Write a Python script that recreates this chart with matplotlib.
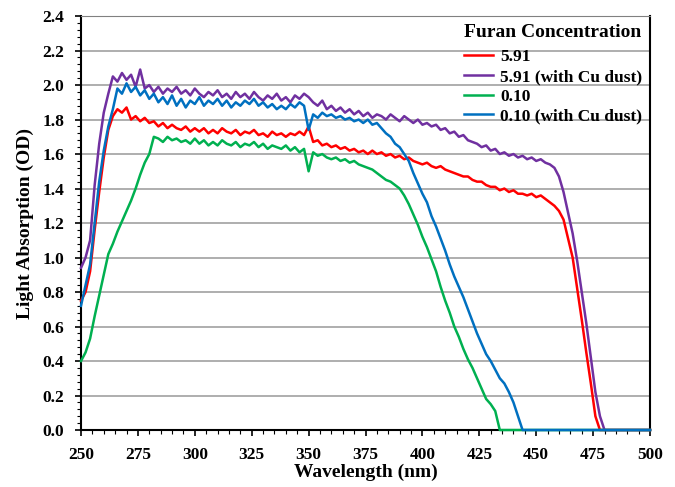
import numpy as np
import matplotlib
matplotlib.use('Agg')
import matplotlib.pyplot as plt
from matplotlib.ticker import MultipleLocator

plt.rcParams['font.family'] = ['Liberation Serif', 'DejaVu Serif']
plt.rcParams['font.weight'] = 'bold'

# wavelength grid (nm), 2 nm steps
wavelength = np.arange(250, 502, 2)

# Furan 5.91
red_591 = [0.75, 0.80, 0.92, 1.16, 1.38, 1.58, 1.74, 1.82, 1.86, 1.84,
           1.87, 1.80, 1.82, 1.79, 1.81, 1.78, 1.79, 1.76, 1.78, 1.75,
           1.77, 1.75, 1.74, 1.76, 1.73, 1.75, 1.73, 1.75, 1.72, 1.74,
           1.72, 1.75, 1.73, 1.72, 1.74, 1.71, 1.73, 1.72, 1.74, 1.71,
           1.72, 1.70, 1.73, 1.71, 1.72, 1.70, 1.72, 1.71, 1.73, 1.71,
           1.76, 1.67, 1.68, 1.65, 1.66, 1.64, 1.65, 1.63, 1.64, 1.62,
           1.63, 1.61, 1.62, 1.60, 1.62, 1.60, 1.61, 1.59, 1.60, 1.58,
           1.59, 1.57, 1.58, 1.56, 1.55, 1.54, 1.55, 1.53, 1.52, 1.53,
           1.51, 1.50, 1.49, 1.48, 1.47, 1.47, 1.45, 1.44, 1.44, 1.42,
           1.41, 1.41, 1.39, 1.40, 1.38, 1.39, 1.37, 1.37, 1.36, 1.37,
           1.35, 1.36, 1.34, 1.32, 1.30, 1.27, 1.22, 1.11, 1.00, 0.82,
           0.64, 0.45, 0.27, 0.08, 0.00, 0.00, 0.00, 0.00, 0.00, 0.00,
           0.00, 0.00, 0.00, 0.00, 0.00, 0.00]

# Furan 5.91 with Cu dust
purple_591cu = [0.94, 1.00, 1.10, 1.42, 1.66, 1.84, 1.95, 2.05, 2.02, 2.07,
                2.03, 2.06, 1.99, 2.09, 1.98, 2.00, 1.96, 1.99, 1.95, 1.98,
                1.96, 1.99, 1.95, 1.97, 1.94, 1.98, 1.95, 1.93, 1.96, 1.94,
                1.97, 1.93, 1.95, 1.92, 1.96, 1.93, 1.95, 1.92, 1.96, 1.93,
                1.91, 1.94, 1.92, 1.95, 1.91, 1.93, 1.90, 1.94, 1.92, 1.95,
                1.93, 1.90, 1.88, 1.91, 1.86, 1.88, 1.85, 1.87, 1.84, 1.86,
                1.83, 1.85, 1.82, 1.84, 1.81, 1.83, 1.82, 1.80, 1.83, 1.81,
                1.79, 1.82, 1.80, 1.78, 1.80, 1.77, 1.78, 1.76, 1.77, 1.74,
                1.75, 1.72, 1.73, 1.70, 1.71, 1.68, 1.67, 1.66, 1.64, 1.65,
                1.62, 1.63, 1.60, 1.61, 1.59, 1.60, 1.58, 1.59, 1.57, 1.58,
                1.56, 1.57, 1.55, 1.54, 1.52, 1.47, 1.38, 1.26, 1.14, 0.98,
                0.80, 0.62, 0.42, 0.22, 0.08, 0.00, 0.00, 0.00, 0.00, 0.00,
                0.00, 0.00, 0.00, 0.00, 0.00, 0.00]

# Furan 0.10
green_010 = [0.40, 0.45, 0.53, 0.66, 0.78, 0.90, 1.02, 1.08, 1.15, 1.21,
             1.27, 1.33, 1.40, 1.48, 1.55, 1.60, 1.70, 1.69, 1.67, 1.70,
             1.68, 1.69, 1.67, 1.68, 1.66, 1.69, 1.66, 1.68, 1.65, 1.67,
             1.65, 1.68, 1.66, 1.65, 1.67, 1.64, 1.66, 1.65, 1.67, 1.64,
             1.66, 1.63, 1.65, 1.64, 1.63, 1.65, 1.62, 1.64, 1.61, 1.63,
             1.50, 1.61, 1.59, 1.60, 1.58, 1.57, 1.58, 1.56, 1.57, 1.55,
             1.56, 1.54, 1.53, 1.52, 1.51, 1.49, 1.47, 1.45, 1.44, 1.42,
             1.40, 1.36, 1.31, 1.25, 1.19, 1.12, 1.06, 0.99, 0.92, 0.83,
             0.75, 0.68, 0.60, 0.54, 0.47, 0.41, 0.36, 0.30, 0.24, 0.18,
             0.15, 0.11, 0.00, 0.00, 0.00, 0.00, 0.00, 0.00, 0.00, 0.00,
             0.00, 0.00, 0.00, 0.00, 0.00, 0.00, 0.00, 0.00, 0.00, 0.00,
             0.00, 0.00, 0.00, 0.00, 0.00, 0.00, 0.00, 0.00, 0.00, 0.00,
             0.00, 0.00, 0.00, 0.00, 0.00, 0.00]

# Furan 0.10 with Cu dust
blue_010cu = [0.72, 0.84, 0.96, 1.20, 1.44, 1.62, 1.76, 1.86, 1.98, 1.95,
              2.01, 1.96, 1.99, 1.94, 1.97, 1.92, 1.95, 1.90, 1.93, 1.89,
              1.94, 1.88, 1.92, 1.87, 1.91, 1.89, 1.93, 1.88, 1.91, 1.89,
              1.92, 1.88, 1.91, 1.87, 1.90, 1.88, 1.91, 1.89, 1.92, 1.88,
              1.90, 1.87, 1.89, 1.86, 1.88, 1.86, 1.89, 1.87, 1.90, 1.88,
              1.74, 1.83, 1.81, 1.84, 1.82, 1.83, 1.81, 1.82, 1.80, 1.81,
              1.79, 1.80, 1.78, 1.80, 1.77, 1.78, 1.75, 1.72, 1.70, 1.66,
              1.64, 1.60, 1.56, 1.49, 1.43, 1.37, 1.32, 1.24, 1.18, 1.11,
              1.04, 0.96, 0.89, 0.83, 0.77, 0.70, 0.63, 0.56, 0.50, 0.44,
              0.40, 0.35, 0.30, 0.27, 0.22, 0.16, 0.08, 0.00, 0.00, 0.00,
              0.00, 0.00, 0.00, 0.00, 0.00, 0.00, 0.00, 0.00, 0.00, 0.00,
              0.00, 0.00, 0.00, 0.00, 0.00, 0.00, 0.00, 0.00, 0.00, 0.00,
              0.00, 0.00, 0.00, 0.00, 0.00, 0.00]

labels = ['5.91', '5.91 (with Cu dust)', '0.10', '0.10 (with Cu dust)']
colors = ['#FF0000', '#7030A0', '#00B050', '#0070C0']

fig = plt.figure(figsize=(6.75, 4.87), dpi=100)
ax = fig.add_axes([0.12, 0.117, 0.843, 0.85])

for ys, lab, col in zip([red_591, purple_591cu, green_010, blue_010cu], labels, colors):
    ax.plot(wavelength, ys, color=col, lw=1.8, label=lab, clip_on=False, zorder=3)

ax.set_xlim(250, 500)
ax.set_ylim(0, 2.4)
ax.xaxis.set_major_locator(MultipleLocator(25))
ax.xaxis.set_minor_locator(MultipleLocator(5))
ax.yaxis.set_major_locator(MultipleLocator(0.2))
ax.yaxis.set_minor_locator(MultipleLocator(0.04))
ax.yaxis.set_major_formatter(plt.FormatStrFormatter('%.1f'))
ax.grid(axis='y', which='major', color='#999999', lw=1.1)
ax.set_axisbelow(True)

ax.tick_params(which='major', direction='out', length=4, width=1.2, labelsize=12.5)
ax.tick_params(which='minor', direction='out', length=3, width=0.8)
ax.tick_params(axis='y', which='major', pad=8)
ax.tick_params(axis='x', which='major', pad=8)
for s in ['left', 'bottom', 'right']:
    ax.spines[s].set_linewidth(1.5)
ax.spines['top'].set_color('#808080')

ax.set_xlabel('Wavelength (nm)', fontsize=14, fontweight='bold', labelpad=1)
ax.set_ylabel('Light Absorption (OD)', fontsize=14, fontweight='bold', labelpad=6)

leg = ax.legend(title='Furan Concentration', loc='upper right', frameon=False,
                fontsize=12.5, handlelength=1.7, handletextpad=0.4,
                labelspacing=0.2, borderaxespad=0.15, borderpad=0.3)
leg.get_title().set_fontweight('bold')
leg.get_title().set_fontsize(14)
leg._legend_box.align = 'left'
leg._legend_box.sep = 6

fig.savefig('out.png', dpi=100)
